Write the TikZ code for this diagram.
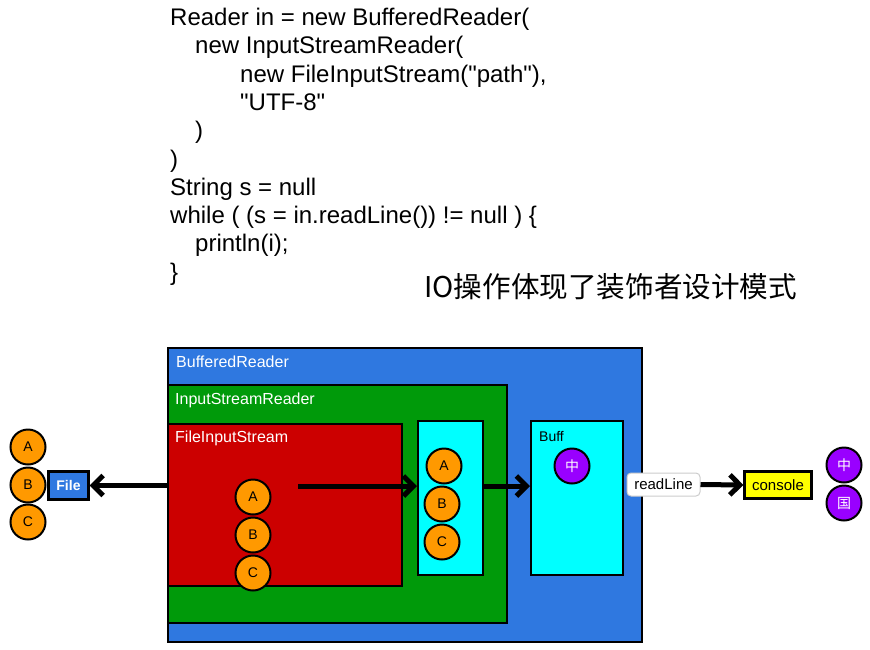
\documentclass[tikz,border=0pt]{standalone}
\usepackage{fontspec}
\setmainfont{Liberation Sans}
\newfontfamily\codefont{Liberation Sans}
\newfontfamily\cjk{Noto Sans CJK SC}
\usetikzlibrary{arrows.meta}
\definecolor{bblue}{RGB}{47,120,224}
\definecolor{bgreen}{RGB}{0,154,10}
\definecolor{bred}{RGB}{204,0,0}
\definecolor{borange}{RGB}{255,153,0}
\definecolor{bpurple}{RGB}{153,0,255}
\definecolor{bcyan}{RGB}{0,255,255}
\definecolor{byellow}{RGB}{255,255,0}
\tikzset{
  box/.style={draw=black, line width=2.2pt, anchor=north west, inner sep=0pt},
  boxlabel/.style={anchor=west, inner sep=0pt, text=white, font=\fontsize{16}{16}\selectfont},
  ball/.style={circle, draw=black, line width=2pt, fill=borange, minimum size=35pt, inner sep=0pt, font=\fontsize{14}{14}\selectfont},
  pball/.style={circle, draw=black, line width=2pt, fill=bpurple, minimum size=35pt, inner sep=0pt, text=white, font=\cjk\fontsize{14}{14}\selectfont},
  codeline/.style={anchor=base west, inner sep=0pt, font=\codefont\fontsize{24}{24}\selectfont},
  flow/.style={line width=5pt, -{Straight Barb[length=10pt,width=20pt,line width=5pt]}},
}
\begin{document}
\begin{tikzpicture}[x=1pt,y=-1pt]
\useasboundingbox (0,0) rectangle (870,649);

% code
\node[codeline] (c1) at (170,25.5) {Reader in = new BufferedReader(};
\node[codeline] (c2) at (195,53.8) {new InputStreamReader(};
\node[codeline] (c3) at (240,82.1) {new FileInputStream("path"),};
\node[codeline] (c4) at (240,110.4) {"UTF-8"};
\node[codeline] (c5) at (195,138.7) {)};
\node[codeline] (c6) at (170,167) {)};
\node[codeline] (c7) at (170,195.3) {String s = null};
\node[codeline] (c8) at (170,223.6) {while ( (s = in.readLine()) != null ) \{};
\node[codeline] (c9) at (195,251.9) {println(i);};
\node[codeline] (c10) at (170,280.2) {\}};

\node[anchor=west, inner sep=0pt, font=\cjk\fontsize{28.6}{28.6}\selectfont] (title) at (424,287) {IO操作体现了装饰者设计模式};

% containers
\node[box, fill=bblue, minimum width=474pt, minimum height=294pt] (br) at (167,347) {};
\node[boxlabel] (brl) at (176,362) {BufferedReader};
\node[box, fill=bgreen, minimum width=339pt, minimum height=238pt] (isr) at (167,384) {};
\node[boxlabel] (isrl) at (175,400) {InputStreamReader};
\node[box, fill=bred, minimum width=234pt, minimum height=162pt] (fis) at (167,423) {};
\node[boxlabel] (fisl) at (175,438) {FileInputStream};

\node[ball] (fa) at (253,497) {A};
\node[ball] (fb) at (253,535) {B};
\node[ball] (fc) at (253,573) {C};

\node[box, fill=bcyan, minimum width=65pt, minimum height=154pt] (cy) at (417,420) {};
\node[ball] (ca) at (444,466) {A};
\node[ball] (cb) at (442,504) {B};
\node[ball] (cc) at (442,542) {C};

\node[box, fill=bcyan, minimum width=92pt, minimum height=154pt] (buff) at (530,420) {};
\node[anchor=west, inner sep=0pt, font=\fontsize{14}{14}\selectfont] (buffl) at (539,436) {Buff};
\node[pball] (bz) at (572,466) {中};

% left side
\node[ball] (la) at (28,447) {A};
\node[ball] (lb) at (28,485) {B};
\node[ball] (lc) at (28,522) {C};
\node[draw=black, line width=2.2pt, fill=bblue, text=white, font=\bfseries\fontsize{14}{14}\selectfont, minimum width=40pt, minimum height=28pt, inner sep=0pt] (file) at (68.5,485.5) {File};

% right side
\node[draw=black!20, line width=1pt, rounded corners=4pt, fill=white, font=\fontsize{15}{15}\selectfont, minimum height=23pt, minimum width=73pt, inner sep=2pt] (rl) at (663.5,484.5) {readLine};
\node[draw=black, line width=2.2pt, fill=byellow, font=\fontsize{15}{15}\selectfont, minimum width=67pt, minimum height=27pt, inner sep=0pt] (con) at (778,485) {console};
\node[pball] (pz) at (844,465) {中};
\node[pball] (pg) at (844,503) {国};

% arrows
\coordinate (s1) at (298,486);
\draw[flow] (fis.west |- file.east) -- (file.east);
\draw[flow] (s1) -- (cy.west |- s1);
\draw[flow] (cy.east |- s1) -- (buff.west |- s1);
\draw[flow] (rl.east) -- (con.west);
\end{tikzpicture}
\end{document}
